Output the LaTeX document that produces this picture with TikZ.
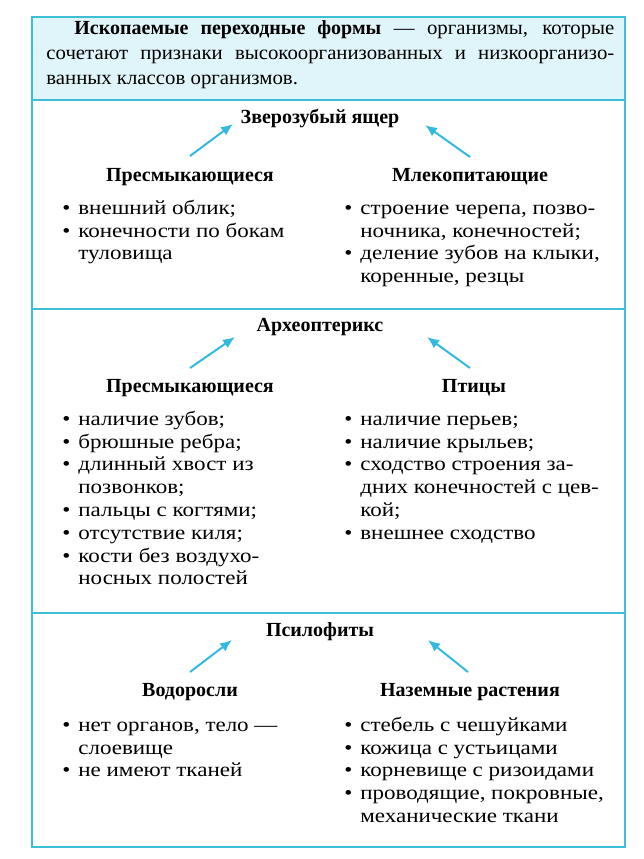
\documentclass[tikz,border=0pt]{standalone}
\usepackage{fontspec}
\setmainfont[FakeStretch=1.15]{Liberation Serif}
\newfontfamily\headfont{Liberation Serif}
\newfontfamily\introfont[FakeStretch=1.04]{Liberation Serif}
\usetikzlibrary{arrows.meta}
\definecolor{framecol}{RGB}{60,190,215}
\definecolor{headfill}{RGB}{224,245,250}
\definecolor{arrowcol}{RGB}{50,185,225}
\newcommand{\bul}{\strut\makebox[8pt][l]{\textbullet}}
\newcommand{\cont}{\strut\hspace*{8pt}}

\begin{document}
\begin{tikzpicture}[
  x=0.5pt, y=-0.5pt,
  every node/.style={inner sep=0pt, font=\fontsize{10}{11.4}\selectfont},
  intro/.style={anchor=north west, text width=284pt, align=justify,
                font=\fontsize{10}{12.5}\selectfont\introfont},
  formname/.style={font=\fontsize{10}{12}\selectfont\headfont\bfseries},
  groupname/.style={font=\fontsize{10}{12}\selectfont\headfont\bfseries},
  traits/.style={anchor=north west, align=left},
  link/.style={-{Latex[length=6pt,width=5pt]}, arrowcol, line width=1pt},
  rule/.style={framecol, line width=1.1pt}
]
  \useasboundingbox (0,0) rectangle (644,859);

  % --- Frame and header ---
  \fill[headfill] (32,17) rectangle (625,100);
  \draw[rule] (32,17) rectangle (625,847);
  \draw[rule] (32,100) -- (625,100);
  \draw[rule] (32,309) -- (625,309);
  \draw[rule] (32,613) -- (625,613);

  \node[intro] (intro) at (46,17) {\strut\hspace*{14pt}{\headfont\bfseries Ископаемые
    переходные формы} — организмы, которые\linebreak сочетают признаки
    высокоорганизованных и низкоорганизо-\linebreak ванных классов организмов.};

  % --- Зверозубый ящер ---
  \node[formname] (zver) at (320,118) {Зверозубый ящер};
  \node[groupname] (rept1) at (190,177) {Пресмыкающиеся};
  \node[groupname] (mamm) at (470,177) {Млекопитающие};
  \coordinate (z1) at (190,156);
  \coordinate (z2) at (470,157);
  \draw[link] (z1) -- (233,124) coordinate (z1h);
  \draw[link] (z2) -- (425,125) coordinate (z2h);

  \node[traits] (rept1list) at (62,198) {%
    \bul внешний облик;\\
    \bul конечности по бокам\\
    \cont туловища};
  \node[traits] (mammlist) at (344,198) {%
    \bul строение черепа, позво-\\
    \cont ночника, конечностей;\\
    \bul деление зубов на клыки,\\
    \cont коренные, резцы};

  % --- Археоптерикс ---
  \node[formname] (archeo) at (320,327) {Археоптерикс};
  \node[groupname] (rept2) at (190,388) {Пресмыкающиеся};
  \node[groupname] (birds) at (474,388) {Птицы};
  \coordinate (a1) at (190,368);
  \coordinate (a2) at (470,368);
  \draw[link] (a1) -- (235,337) coordinate (a1h);
  \draw[link] (a2) -- (427,337) coordinate (a2h);

  \node[traits] (rept2list) at (62,409) {%
    \bul наличие зубов;\\
    \bul брюшные ребра;\\
    \bul длинный хвост из\\
    \cont позвонков;\\
    \bul пальцы с когтями;\\
    \bul отсутствие киля;\\
    \bul кости без воздухо-\\
    \cont носных полостей};
  \node[traits] (birdslist) at (344,409) {%
    \bul наличие перьев;\\
    \bul наличие крыльев;\\
    \bul сходство строения за-\\
    \cont дних конечностей с цев-\\
    \cont кой;\\
    \bul внешнее сходство};

  % --- Псилофиты ---
  \node[formname] (psilo) at (320,632) {Псилофиты};
  \node[groupname] (algae) at (190,692) {Водоросли};
  \node[groupname] (land) at (470,692) {Наземные растения};
  \coordinate (p1) at (190,672);
  \coordinate (p2) at (468,672);
  \draw[link] (p1) -- (232,640) coordinate (p1h);
  \draw[link] (p2) -- (428,640) coordinate (p2h);

  \node[traits] (algaelist) at (62,715) {%
    \bul нет органов, тело —\\
    \cont слоевище\\
    \bul не имеют тканей};
  \node[traits] (landlist) at (344,715) {%
    \bul стебель с чешуйками\\
    \bul кожица с устьицами\\
    \bul корневище с ризоидами\\
    \bul проводящие, покровные,\\
    \cont механические ткани};

\end{tikzpicture}
\end{document}
